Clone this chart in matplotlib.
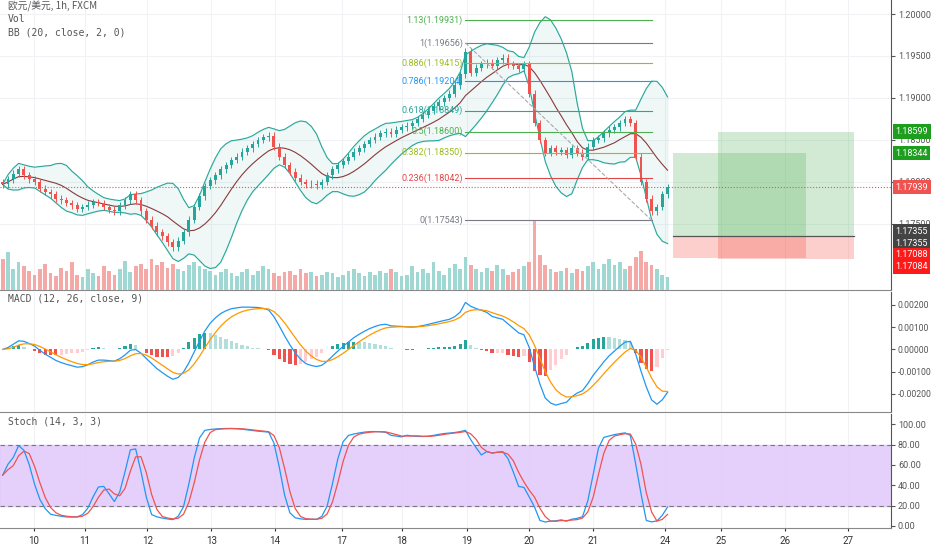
import numpy as np
import pandas as pd
import matplotlib.pyplot as plt
from matplotlib.patches import Rectangle

# 2-hour closes (EUR/USD)
closes = [1.1797, 1.1803, 1.1810, 1.1815, 1.1808, 1.1803, 1.1800, 1.1792, 1.1788, 1.1785,
          1.1780, 1.1778, 1.1775, 1.1772, 1.1768, 1.1770, 1.1773, 1.1776, 1.1775, 1.1770,
          1.1767, 1.1765, 1.1772, 1.1778, 1.1785, 1.1778, 1.1765, 1.1755, 1.1748, 1.1740,
          1.1735, 1.1728, 1.1722, 1.1730, 1.1740, 1.1755, 1.1770, 1.1783, 1.1795, 1.1802,
          1.1808, 1.1815, 1.1820, 1.1826, 1.1830, 1.1836, 1.1840, 1.1845, 1.1850, 1.1853,
          1.1855, 1.1842, 1.1830, 1.1820, 1.1812, 1.1805, 1.1800, 1.1797, 1.1798, 1.1796,
          1.1800, 1.1808, 1.1815, 1.1820, 1.1825, 1.1830, 1.1836, 1.1840, 1.1845, 1.1850,
          1.1854, 1.1858, 1.1860, 1.1857, 1.1862, 1.1865, 1.1867, 1.1870, 1.1875, 1.1880,
          1.1885, 1.1890, 1.1895, 1.1900, 1.1905, 1.1915, 1.1928, 1.1955, 1.1930, 1.1936,
          1.1940, 1.1942, 1.1938, 1.1945, 1.1948, 1.1940, 1.1938, 1.1935, 1.1940, 1.1905,
          1.1870, 1.1850, 1.1835, 1.1840, 1.1836, 1.1838, 1.1832, 1.1840, 1.1835, 1.1830,
          1.1842, 1.1850, 1.1852, 1.1858, 1.1862, 1.1865, 1.1870, 1.1875, 1.1870, 1.1830,
          1.1800, 1.1780, 1.1765, 1.1770, 1.1785, 1.1794]
volumes = [45, 55, 30, 40, 35, 28, 22, 30, 38, 25, 20, 32, 28, 40, 22, 18, 30, 25, 20, 35,
           28, 22, 30, 42, 26, 34, 38, 30, 44, 36, 40, 32, 38, 30, 28, 36, 40, 34, 30, 28,
           22, 26, 30, 24, 20, 26, 30, 22, 28, 34, 30, 24, 20, 26, 28, 22, 30, 24, 26, 20,
           22, 26, 24, 18, 22, 28, 30, 24, 20, 26, 22, 28, 24, 30, 26, 20, 22, 34, 26, 30,
           24, 40, 28, 22, 32, 38, 30, 48, 36, 30, 26, 32, 28, 36, 30, 22, 26, 30, 34, 40,
           100, 50, 36, 30, 26, 28, 32, 24, 30, 28, 34, 40, 30, 38, 44, 36, 40, 30, 34, 48,
           56, 40, 36, 30, 22, 18]
day_labels = ['10', '11', '12', '13', '14', '17', '18', '19', '20', '21', '24', '25', '26', '27']
day_pos = [5.8, 15.4, 27.2, 39.2, 51.2, 63.8, 75.0, 87.2, 99.0, 111.0, 124.6, 135.0, 147.0, 159.0]
fib_ratio = [1.13, 1.0, 0.886, 0.786, 0.618, 0.5, 0.382, 0.236, 0.0]
fib_price = [1.19931, 1.19656, 1.19415, 1.19204, 1.18849, 1.18600, 1.18350, 1.18042, 1.17543]
fib_color = ['#4caf50', '#787b86', '#9bbb1f', '#2196f3', '#26a69a', '#4caf50', '#9bbb1f', '#e04646', '#787b86']
entry, tp1, tp2, sl1, sl2 = 1.17355, 1.18344, 1.18599, 1.17088, 1.17084
last_price = 1.17939

UP, DN = '#26a69a', '#ef5350'
MONO = 'DejaVu Sans Mono'
c = pd.Series(closes)
o = c.shift(1).fillna(c.iloc[0] + 0.0003)
x = np.arange(len(c))
hi = np.maximum(o, c) + 0.0004
lo = np.minimum(o, c) - 0.0004

plt.rcParams['font.family'] = ['Roboto', 'DejaVu Sans']
fig = plt.figure(figsize=(9.32, 5.5), dpi=100)
axp = fig.add_axes([0, 0.473, 0.956, 0.527])
axm = fig.add_axes([0, 0.251, 0.956, 0.218], sharex=axp)
axs = fig.add_axes([0, 0.04, 0.956, 0.207], sharex=axp)

# volume on a hidden twin axis
axv = axp.twinx()
axv.set_ylim(0, 420)
axv.axis('off')
axv.bar(x, volumes, width=0.7, color=np.where(c >= o, '#9fd8d2', '#f5a9a7'), zorder=1)

XMAX = 167
for ax in (axp, axm, axs):
    ax.set_xlim(-0.5, XMAX)
    for s in ('left', 'top'):
        ax.spines[s].set_visible(False)
    ax.spines['right'].set_visible(True)
    ax.spines['right'].set_color('#555555')
    ax.spines['bottom'].set_color('#888888')
    ax.yaxis.tick_right()
    ax.tick_params(axis='y', labelsize=6.5, colors='#555555', length=3, pad=2)
    ax.tick_params(axis='x', length=0, labelbottom=False)
    for p in day_pos:
        ax.axvline(p, color='#f0f2f5', lw=0.8, zorder=0)

# bollinger
mid = c.rolling(10, min_periods=1).mean()
sd = c.rolling(10, min_periods=1).std().fillna(0)
up, dnb = mid + 2 * sd, mid - 2 * sd
axp.fill_between(x, up, dnb, color='#26a69a', alpha=0.07, zorder=2)
axp.plot(x, up, color='#26a69a', lw=0.8, zorder=3)
axp.plot(x, dnb, color='#26a69a', lw=0.8, zorder=3)
axp.plot(x, mid, color='#8b3a3a', lw=0.8, zorder=3)

# candles
cols = np.where(c >= o, UP, DN)
axp.vlines(x, lo, hi, colors=cols, lw=0.7, zorder=4)
axp.bar(x, np.abs(c - o).clip(lower=0.00008), bottom=np.minimum(o, c), width=0.55, color=cols, zorder=5)

axp.set_ylim(1.16714, 1.20167)
yt = [1.175, 1.18, 1.185, 1.19, 1.195, 1.2]
axp.set_yticks(yt)
axp.set_yticklabels([f'{v:.5f}' for v in yt])
for v in yt:
    axp.axhline(v, color='#f0f2f5', lw=0.8, zorder=0)

# fibonacci
fs, fe = 87, 122
for r, p, col in zip(fib_ratio, fib_price, fib_color):
    axp.plot([fs, fe], [p, p], color=col, lw=0.8, zorder=6)
    axp.text(fs - 0.5, p, f'{r:g}({p:.5f})', color=col, fontsize=6.5, ha='right', va='center', zorder=7)
axp.plot([fs, fe], [fib_price[1], fib_price[-1]], color='#aaaaaa', lw=0.8, ls='--', zorder=6)

# long position tool
axp.add_patch(Rectangle((126, entry), 25, tp1 - entry, color='#4caf50', alpha=0.25, lw=0, zorder=2))
axp.add_patch(Rectangle((134.5, entry), 25.5, tp2 - entry, color='#4caf50', alpha=0.25, lw=0, zorder=2))
axp.add_patch(Rectangle((126, sl1), 25, entry - sl1, color='#f44336', alpha=0.25, lw=0, zorder=2))
axp.add_patch(Rectangle((134.5, sl2), 25.5, entry - sl2, color='#f44336', alpha=0.25, lw=0, zorder=2))
axp.plot([126, 160], [entry, entry], color='#555555', lw=0.9, zorder=3)
axp.axhline(last_price, color='#ef5350', lw=0.8, ls=':', zorder=6)

labels = [(1.18599, 1.18599, '#1e9e1e'), (1.18344, 1.18344, '#1e9e1e'), (1.17939, 1.17939, '#ef5350'),
          (1.17355, 1.17410, '#444444'), (1.17355, 1.17270, '#444444'),
          (1.17088, 1.17130, '#ff1a1a'), (1.17084, 1.16990, '#ff1a1a')]
for val, ypos, bg in labels:
    axp.text(XMAX + 0.8, ypos, f'{val:.5f}', color='white', fontsize=6.5, va='center', ha='left',
             bbox=dict(boxstyle='square,pad=0.3', fc=bg, ec='none'), clip_on=False, zorder=10)

axp.text(1, 1.2005, '欧元/美元, 1h, FXCM', fontsize=7, color='#555555',
         family=['Noto Sans CJK SC', MONO])
axp.text(1, 1.1990, 'Vol', fontsize=7, color='#555555', family=MONO)
axp.text(1, 1.1975, 'BB (20, close, 2, 0)', fontsize=7, color='#555555', family=MONO)

# MACD
ema_f = c.ewm(span=6, adjust=False).mean()
ema_s = c.ewm(span=13, adjust=False).mean()
macd = ema_f - ema_s
sig = macd.ewm(span=5, adjust=False).mean()
hist = macd - sig
prev = hist.shift(1).fillna(0)
hcol = np.where(hist >= 0, np.where(hist >= prev, '#26a69a', '#b2dfdb'),
                np.where(hist <= prev, '#ef5350', '#ffcdd2'))
axm.bar(x, hist, width=0.6, color=hcol)
axm.plot(x, macd, color='#2196f3', lw=0.9)
axm.plot(x, sig, color='#ff9800', lw=0.9)
axm.set_ylim(-0.00281, 0.00258)
mt = [-0.002, -0.001, 0, 0.001, 0.002]
axm.set_yticks(mt)
axm.set_yticklabels(['-0.00200', '-0.00100', '0.00000', '0.00100', '0.00200'], fontsize=6.2)
axm.text(1, 0.00215, 'MACD (12, 26, close, 9)', fontsize=7, color='#555555', family=MONO)

# stochastic
lo_n = c.rolling(10, min_periods=1).min() - 0.0004
hi_n = c.rolling(10, min_periods=1).max() + 0.0004
k = 100 * (c - lo_n) / (hi_n - lo_n)
k = k.rolling(3, min_periods=1).mean()
d = k.rolling(3, min_periods=1).mean()
axs.axhspan(20, 80, color='#e1c8fb', alpha=0.85, zorder=0)
axs.axhline(80, color='#777777', lw=0.8, ls=(0, (4, 3)))
axs.axhline(20, color='#777777', lw=0.8, ls=(0, (4, 3)))
axs.plot(x, k, color='#2196f3', lw=0.9)
axs.plot(x, d, color='#ef5350', lw=0.9)
axs.set_ylim(-2, 110)
st = [0, 20, 40, 60, 80, 100]
axs.set_yticks(st)
axs.set_yticklabels([f'{v:.2f}' for v in st])
axs.text(1, 100, 'Stoch (14, 3, 3)', fontsize=7, color='#555555', family=MONO)
axs.set_xticks(day_pos)
axs.set_xticklabels(day_labels)
axs.tick_params(axis='x', labelbottom=True, labelsize=7, colors='#333333', length=2)

fig.savefig('out.png', dpi=100)
